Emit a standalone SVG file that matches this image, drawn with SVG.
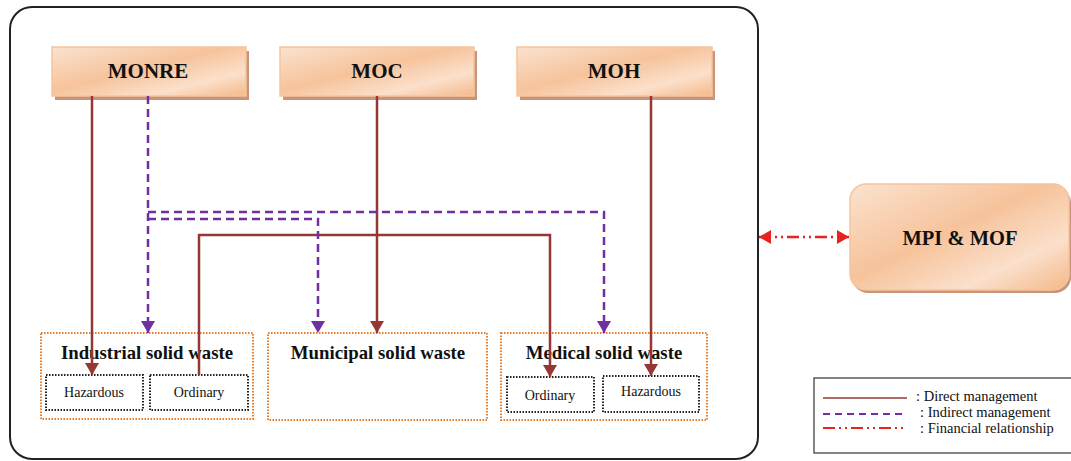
<svg xmlns="http://www.w3.org/2000/svg" width="1071" height="461" viewBox="0 0 1071 461">
<style>
.frame{fill:#fff;stroke:#222;stroke-width:2}
.agency{fill:url(#peach);stroke:#f6c49c;stroke-width:1.5}
.shadow{fill:#c8957a}
.ttl{font-family:"Liberation Serif",serif;font-weight:bold;fill:#111;text-anchor:middle}
.waste{fill:#fff;stroke:#e87d2a;stroke-width:2;stroke-dasharray:1.5 1.5}
.sub{fill:#fff;stroke:#222;stroke-width:2;stroke-dasharray:1.5 1.5}
.subt{font-family:"Liberation Serif",serif;font-size:14px;fill:#111;text-anchor:middle}
.direct{fill:none;stroke:#953735;stroke-width:2.5}
.indirect{fill:none;stroke:#7030a0;stroke-width:2.5;stroke-dasharray:8 5}
.fin{fill:none;stroke:#e8231f;stroke-width:2.5;stroke-dasharray:12 4 2 4 2 4}
.leg{font-family:"Liberation Serif",serif;font-size:14.5px;fill:#111}
</style>
<defs>
<linearGradient id="peach" x1="0" y1="0" x2="1" y2="1">
<stop offset="0" stop-color="#fbe2cf"/>
<stop offset="0.45" stop-color="#f6c39b"/>
<stop offset="0.75" stop-color="#fbe0cb"/>
<stop offset="1" stop-color="#f4b888"/>
</linearGradient>
<marker id="arD" markerUnits="userSpaceOnUse" markerWidth="14" markerHeight="14" refX="12" refY="7" orient="auto">
<path d="M0,0 L12,7 L0,14 Z" fill="#953735"/>
</marker>
<marker id="arI" markerUnits="userSpaceOnUse" markerWidth="14" markerHeight="14" refX="12" refY="7" orient="auto">
<path d="M0,0 L12,7 L0,14 Z" fill="#7030a0"/>
</marker>
<marker id="arF" markerUnits="userSpaceOnUse" markerWidth="14" markerHeight="14" refX="12" refY="7" orient="auto-start-reverse">
<path d="M0,0 L12,7 L0,14 Z" fill="#e8231f"/>
</marker>
</defs>

<rect class="frame" x="10" y="7" width="748" height="452" rx="22"/>

<g id="node-monre">
<rect class="shadow" x="55" y="51" width="194" height="49"/>
<rect class="agency" x="52" y="47" width="194" height="49"/>
<text class="ttl" x="148" y="78" font-size="21">MONRE</text>
</g>
<g id="node-moc">
<rect class="shadow" x="283" y="51" width="194" height="49"/>
<rect class="agency" x="280" y="47" width="194" height="49"/>
<text class="ttl" x="377" y="78" font-size="21">MOC</text>
</g>
<g id="node-moh">
<rect class="shadow" x="520" y="51" width="195" height="49"/>
<rect class="agency" x="517" y="47" width="195" height="49"/>
<text class="ttl" x="614" y="78" font-size="21">MOH</text>
</g>

<g id="node-mpi-mof">
<rect class="shadow" x="852" y="187" width="219" height="106" rx="16"/>
<rect class="agency" x="850" y="184" width="219" height="106" rx="16"/>
<text class="ttl" x="960" y="245" font-size="20.5">MPI &amp; MOF</text>
</g>

<g id="node-industrial">
<rect class="waste" x="41" y="333" width="212" height="86"/>
<text class="ttl" x="147" y="359" font-size="18.8">Industrial solid waste</text>
<g id="node-ind-hazardous">
<rect class="sub" x="46" y="375" width="97" height="35"/>
<text class="subt" x="94" y="397">Hazardous</text>
</g>
<g id="node-ind-ordinary">
<rect class="sub" x="150" y="375" width="98" height="35"/>
<text class="subt" x="199" y="397">Ordinary</text>
</g>
</g>

<g id="node-municipal">
<rect class="waste" x="268" y="333" width="219" height="87"/>
<text class="ttl" x="378" y="359" font-size="18.8">Municipal solid waste</text>
</g>

<g id="node-medical">
<rect class="waste" x="501" y="333" width="206" height="87"/>
<text class="ttl" x="604" y="359" font-size="18.8">Medical solid waste</text>
<g id="node-med-ordinary">
<rect class="sub" x="507" y="377" width="87" height="35"/>
<text class="subt" x="550" y="400">Ordinary</text>
</g>
<g id="node-med-hazardous">
<rect class="sub" x="603" y="376" width="96" height="36"/>
<text class="subt" x="651" y="396">Hazardous</text>
</g>
</g>

<g id="connectors">
<path class="direct" d="M92,96 V375" marker-end="url(#arD)"/>
<path class="direct" d="M377,96 V333" marker-end="url(#arD)"/>
<path class="direct" d="M199,375 V235 H550 V377" marker-end="url(#arD)"/>
<path class="direct" d="M651,96 V376" marker-end="url(#arD)"/>
<path class="indirect" d="M148,96 V333" marker-end="url(#arI)"/>
<path class="indirect" d="M148,212 H604 V333" marker-end="url(#arI)"/>
<path class="indirect" d="M148,219 H318 V333" marker-end="url(#arI)"/>
<path class="fin" d="M759,237 H849" marker-start="url(#arF)" marker-end="url(#arF)"/>
</g>

<g id="legend">
<rect x="814" y="378" width="262" height="75" fill="#fff" stroke="#333" stroke-width="1.2"/>
<line x1="823" y1="398" x2="907" y2="398" stroke="#953735" stroke-width="1.3"/>
<line x1="823" y1="414" x2="907" y2="414" stroke="#7030a0" stroke-width="2" stroke-dasharray="7 5"/>
<line x1="823" y1="428" x2="907" y2="428" stroke="#e8231f" stroke-width="2" stroke-dasharray="12 4 2 4 2 4"/>
<text class="leg" x="916" y="401">: Direct management</text>
<text class="leg" x="920" y="417">: Indirect management</text>
<text class="leg" x="920" y="433">: Financial relationship</text>
</g>
</svg>
